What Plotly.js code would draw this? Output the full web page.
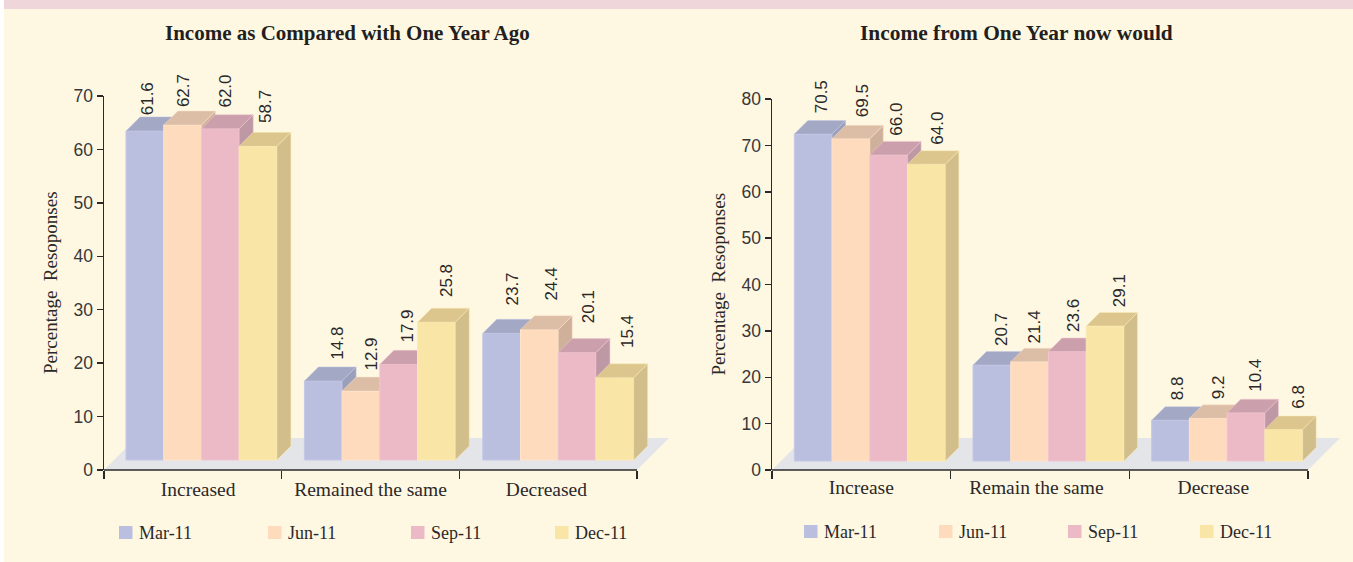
<!DOCTYPE html>
<html><head><meta charset="utf-8">
<script src="https://cdn.plot.ly/plotly-3.0.1.min.js"></script>
<style>html,body{margin:0;padding:0;background:#fff}#c{width:1353px;height:562px}</style>
</head><body><div id="c"></div>
<script>
const seriesNames = ['Mar-11','Jun-11','Sep-11','Dec-11'];
const leftCategories = ['Increased','Remained the same','Decreased'];
const rightCategories = ['Increase','Remain the same','Decrease'];
const leftMar = [61.6,14.8,23.7];
const leftJun = [62.7,12.9,24.4];
const leftSep = [62.0,17.9,20.1];
const leftDec = [58.7,25.8,15.4];
const rightMar = [70.5,20.7,8.8];
const rightJun = [69.5,21.4,9.2];
const rightSep = [66.0,23.6,10.4];
const rightDec = [64.0,29.1,6.8];
const leftTitle = 'Income as Compared with One Year Ago';
const rightTitle = 'Income from One Year now would';
const yTitle = 'Percentage&#160;&#160;Resoponses';

const W=1353,H=562;
const FRONT=['#bbbfdf','#fedbbd','#ecb9c6','#f9e5a5'];
const TOP=['#a3a8c5','#dcbda5','#cc9fad','#dcc68e'];
const SIDE=['#9a9fbc','#cfb19b','#bf98a6','#d1be8b'];
const EDGE=['#c4c8e4','#ffe3ca','#f1c5d0','#fbeab4'];
const SERIF='"Liberation Serif",serif', SANS='"Liberation Sans",sans-serif', INK='#2b2829';
const px=x=>x/W, py=y=>1-y/H;
const EXTRA=40;

const charts=[
 {series:[leftMar,leftJun,leftSep,leftDec],cats:leftCategories,title:leftTitle,titleX:347,titleSize:21,
  x0:104,x1:637,yTop:96,yBot:470,yMax:70,yDtick:10,first:0.124,step:1.004,bw:0.2123,bottomPx:10,depth:14,
  labelPos:[0.53,1.5,2.49],yTitleX:50,standoff:5,
  legendX:[119,268,411,555],legendY:532.5,
  shiftX:[[2,1,5,8],[14,11,9,10],[11,12,11,12]],
  shiftY:[[2,4,7,9],[7,7,8,11],[14,15,15,16]]},
 {series:[rightMar,rightJun,rightSep,rightDec],cats:rightCategories,title:rightTitle,titleX:1016,titleSize:21.4,
  x0:772,x1:1308,yTop:99,yBot:470,yMax:80,yDtick:10,first:0.125,step:1,bw:0.2113,bottomPx:9,depth:13.5,
  labelPos:[0.5,1.48,2.47],yTitleX:718,standoff:3,
  legendX:[804,939,1068,1200],legendY:531.5,
  shiftX:[[8,11.5,8,11],[9,5,6,14],[7,11,10,15]],
  shiftY:[[7,8,6,6],[6,5,6,5],[6,6,7,7]]}
];

const data=[],annotations=[],shapes=[];
const layout={width:W,height:H,margin:{l:0,r:0,t:0,b:0},paper_bgcolor:'#ffffff',plot_bgcolor:'rgba(0,0,0,0)',
  showlegend:false,barmode:'overlay',hovermode:false,annotations,shapes};
shapes.push({type:'rect',xref:'paper',yref:'paper',layer:'below',x0:px(4),x1:1,y0:0,y1:1,fillcolor:'#fef8e3',line:{width:0}});
shapes.push({type:'rect',xref:'paper',yref:'paper',layer:'below',x0:px(4),x1:1,y0:py(9),y1:1,fillcolor:'#eed6da',line:{width:0}});

let n=1;
const name=(p,i)=>p+(i===1?'':i);
charts.forEach(ch=>{
  const base=n; n++;
  const unitX=(ch.x1-ch.x0)/3, unitY=(ch.yBot-ch.yTop)/ch.yMax;
  const dx=ch.depth/unitX, dy=ch.depth/unitY, b=ch.bottomPx/unitY;
  const xr=[0,3+EXTRA/unitX], yr=[0,ch.yMax];
  const dom={x:[px(ch.x0),px(ch.x1+EXTRA)],y:[py(ch.yBot),py(ch.yTop)]};
  const boundaries=[0,1,2,3];
  layout[name('xaxis',base)]={domain:dom.x,range:xr,anchor:name('y',base),showgrid:false,zeroline:false,
    showline:false,tickmode:'array',tickvals:ch.labelPos,ticktext:ch.cats,ticks:'',
    ticklabelstandoff:ch.standoff,tickfont:{family:SERIF,size:19.5,color:INK},
    minor:{tickmode:'array',tickvals:boundaries,ticks:'outside',ticklen:8,tickwidth:1.5,tickcolor:INK,showgrid:false}};
  layout[name('yaxis',base)]={domain:dom.y,range:yr,anchor:name('x',base),showgrid:false,zeroline:false,
    showline:true,linecolor:INK,linewidth:1.5,ticks:'outside',ticklen:6,tickwidth:1.5,tickcolor:INK,
    tick0:0,dtick:ch.yDtick,tickfont:{family:SANS,size:17.5,color:'#3a3738'}};
  shapes.push({type:'line',xref:'paper',yref:'paper',x0:px(ch.x0),x1:px(ch.x1),y0:py(ch.yBot),y1:py(ch.yBot),line:{color:INK,width:1.5}});
  const fr=32/unitX, fh=32/unitY;
  data.push({type:'scatter',mode:'lines',xaxis:name('x',base),yaxis:name('y',base),
    x:[0,3,3+fr,fr,0],y:[0,0,fh,fh,0],fill:'toself',fillcolor:'#e4e5e8',line:{width:0},hoverinfo:'skip'});
  ch.series.forEach((vals,s)=>{
    const k=n++, xa=name('x',k), ya=name('y',k);
    layout[name('xaxis',k)]={domain:dom.x,range:xr,overlaying:name('x',base),anchor:ya,visible:false};
    layout[name('yaxis',k)]={domain:dom.y,range:yr,overlaying:name('y',base),anchor:xa,visible:false};
    const lefts=vals.map((_,g)=>g*ch.step+ch.first+s*ch.bw);
    data.push({type:'bar',name:seriesNames[s],xaxis:xa,yaxis:ya,x:lefts.map(l=>l+ch.bw/2),y:vals,base:vals.map(()=>b),
      width:ch.bw,marker:{color:FRONT[s],line:{color:EDGE[s],width:1}},hoverinfo:'skip'});
    const tx=[],ty=[],sx=[],sy=[];
    vals.forEach((v,g)=>{
      const l=lefts[g], r=l+ch.bw, t=b+v;
      tx.push(l,l+dx,r+dx,r,l,null); ty.push(t,t+dy,t+dy,t,t,null);
      sx.push(r,r+dx,r+dx,r,r,null); sy.push(b,b+dy,t+dy,t,b,null);
    });
    data.push({type:'scatter',mode:'lines',xaxis:xa,yaxis:ya,x:sx,y:sy,fill:'toself',fillcolor:SIDE[s],line:{width:0.5,color:EDGE[s]},hoverinfo:'skip'});
    data.push({type:'scatter',mode:'lines',xaxis:xa,yaxis:ya,x:tx,y:ty,fill:'toself',fillcolor:TOP[s],line:{width:0.5,color:EDGE[s]},hoverinfo:'skip'});
    vals.forEach((v,g)=>{
      annotations.push({xref:xa,yref:ya,x:lefts[g]+ch.bw/2,y:b+v+dy,text:v.toFixed(1),textangle:-90,showarrow:false,
        xanchor:'center',yanchor:'bottom',borderpad:0,xshift:ch.shiftX[g][s],yshift:ch.shiftY[g][s]-1,font:{family:SANS,size:17,color:INK}});
    });
    const lx=ch.legendX[s];
    shapes.push({type:'rect',xref:'paper',yref:'paper',x0:px(lx),x1:px(lx+13.5),y0:py(ch.legendY+6.5),y1:py(ch.legendY-6.5),fillcolor:FRONT[s],line:{width:0}});
    annotations.push({xref:'paper',yref:'paper',x:px(lx+18),y:py(ch.legendY),text:seriesNames[s],showarrow:false,xanchor:'left',yanchor:'middle',
      font:{family:SERIF,size:18,color:INK}});
  });
  annotations.push({xref:'paper',yref:'paper',x:px(ch.titleX),y:py(33),text:'<b>'+ch.title+'</b>',showarrow:false,xanchor:'center',yanchor:'middle',
    font:{family:SERIF,size:ch.titleSize,color:'#231f20'}});
  annotations.push({xref:'paper',yref:'paper',x:px(ch.yTitleX),y:py((ch.yTop+ch.yBot)/2),text:yTitle,textangle:-90,showarrow:false,xanchor:'center',yanchor:'middle',
    font:{family:SERIF,size:19,color:INK}});
});
Plotly.newPlot('c',data,layout,{displayModeBar:false,staticPlot:true});
</script></body></html>
